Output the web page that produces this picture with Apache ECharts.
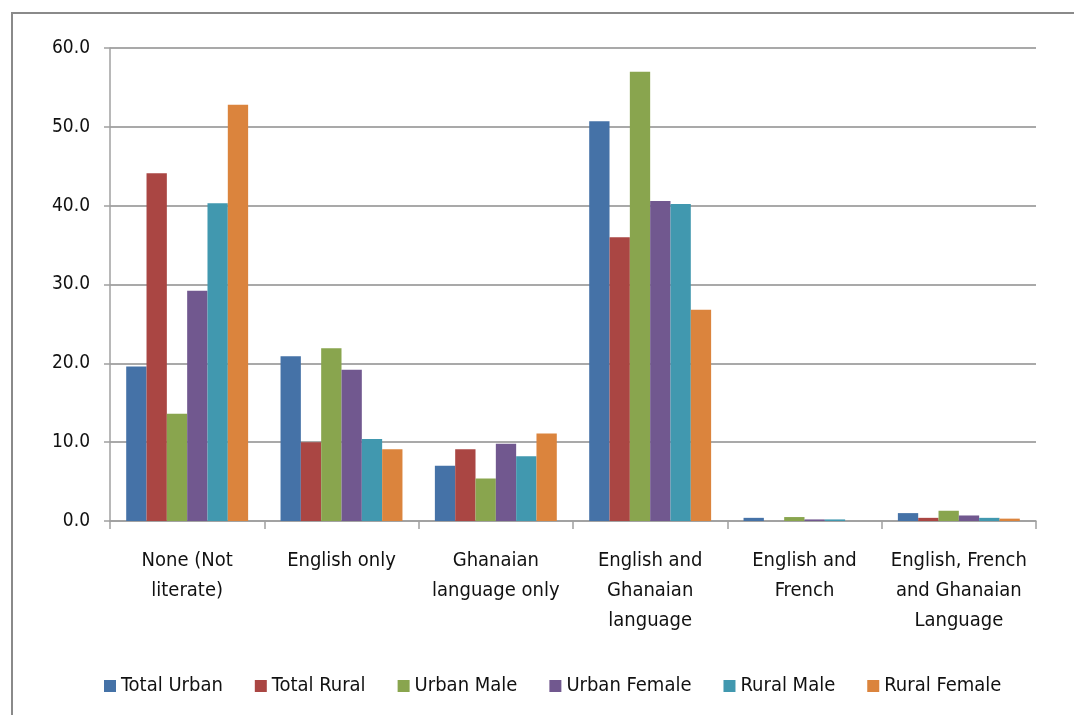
<!DOCTYPE html>
<html>
<head>
<meta charset="utf-8">
<script src="https://cdn.jsdelivr.net/npm/echarts@6/dist/echarts.min.js"></script>
<style>
html,body{margin:0;padding:0;background:#fff;}
#frame{position:absolute;left:11px;top:12px;width:1100px;height:720px;border-left:2px solid #8a8a8a;border-top:2px solid #8a8a8a;box-sizing:border-box;}
#chart{position:absolute;left:0;top:0;width:1074px;height:715px;}
</style>
</head>
<body>
<div id="frame"></div>
<div id="chart"></div>
<script>
var categories = ["None (Not\nliterate)", "English only", "Ghanaian\nlanguage only", "English and\nGhanaian\nlanguage", "English and\nFrench", "English, French\nand Ghanaian\nLanguage"];
var seriesNames = ["Total Urban", "Total Rural", "Urban Male", "Urban Female", "Rural Male", "Rural Female"];
var totalUrban  = [19.6, 20.9, 7.0, 50.7, 0.4, 1.0];
var totalRural  = [44.1, 10.0, 9.1, 36.0, 0.0, 0.4];
var urbanMale   = [13.6, 21.9, 5.4, 57.0, 0.5, 1.3];
var urbanFemale = [29.2, 19.2, 9.8, 40.6, 0.2, 0.7];
var ruralMale   = [40.3, 10.4, 8.2, 40.2, 0.2, 0.4];
var ruralFemale = [52.8, 9.1, 11.1, 26.8, 0.0, 0.3];
var yTicks = {min: 0, max: 60, interval: 10};

var colors = ["#4572A7", "#AA4643", "#89A54E", "#71588F", "#4198AF", "#DB843D"];
var values = [totalUrban, totalRural, urbanMale, urbanFemale, ruralMale, ruralFemale];
var fontFam = "'Liberation Sans Narrow', 'DejaVu Sans Condensed', 'Liberation Sans', sans-serif";

var chart = echarts.init(document.getElementById('chart'), null, {renderer: 'canvas'});
chart.setOption({
  animation: false,
  color: colors,
  textStyle: {fontFamily: fontFam},
  grid: {left: 110, right: 38, top: 48, bottom: 194, containLabel: false},
  legend: {
    data: seriesNames,
    left: 99, top: 671,
    itemWidth: 12, itemHeight: 12, itemGap: 32,
    icon: 'rect',
    textStyle: {fontSize: 20, color: '#111', fontFamily: fontFam}
  },
  xAxis: {
    type: 'category',
    data: categories,
    axisLine: {lineStyle: {color: '#a0a0a0', width: 1.5}},
    axisTick: {show: true, length: 8, lineStyle: {color: '#a0a0a0', width: 1.5}},
    axisLabel: {interval: 0, fontSize: 20, color: '#111', lineHeight: 30, margin: 25, fontFamily: fontFam}
  },
  yAxis: {
    type: 'value',
    min: yTicks.min, max: yTicks.max, interval: yTicks.interval,
    axisLine: {show: true, lineStyle: {color: '#a0a0a0', width: 1.5}},
    axisTick: {show: true, length: 6, lineStyle: {color: '#a0a0a0', width: 1.5}},
    axisLabel: {fontSize: 19, color: '#111', margin: 20, fontFamily: fontFam,
      formatter: function (v) { return v.toFixed(1); }},
    splitLine: {lineStyle: {color: '#8c8c8c', width: 1.5}}
  },
  series: seriesNames.map(function (n, i) {
    return {
      name: n, type: 'bar', data: values[i],
      barGap: '0%', barCategoryGap: '21%',
      itemStyle: {color: colors[i]}
    };
  })
});
</script>
</body>
</html>
